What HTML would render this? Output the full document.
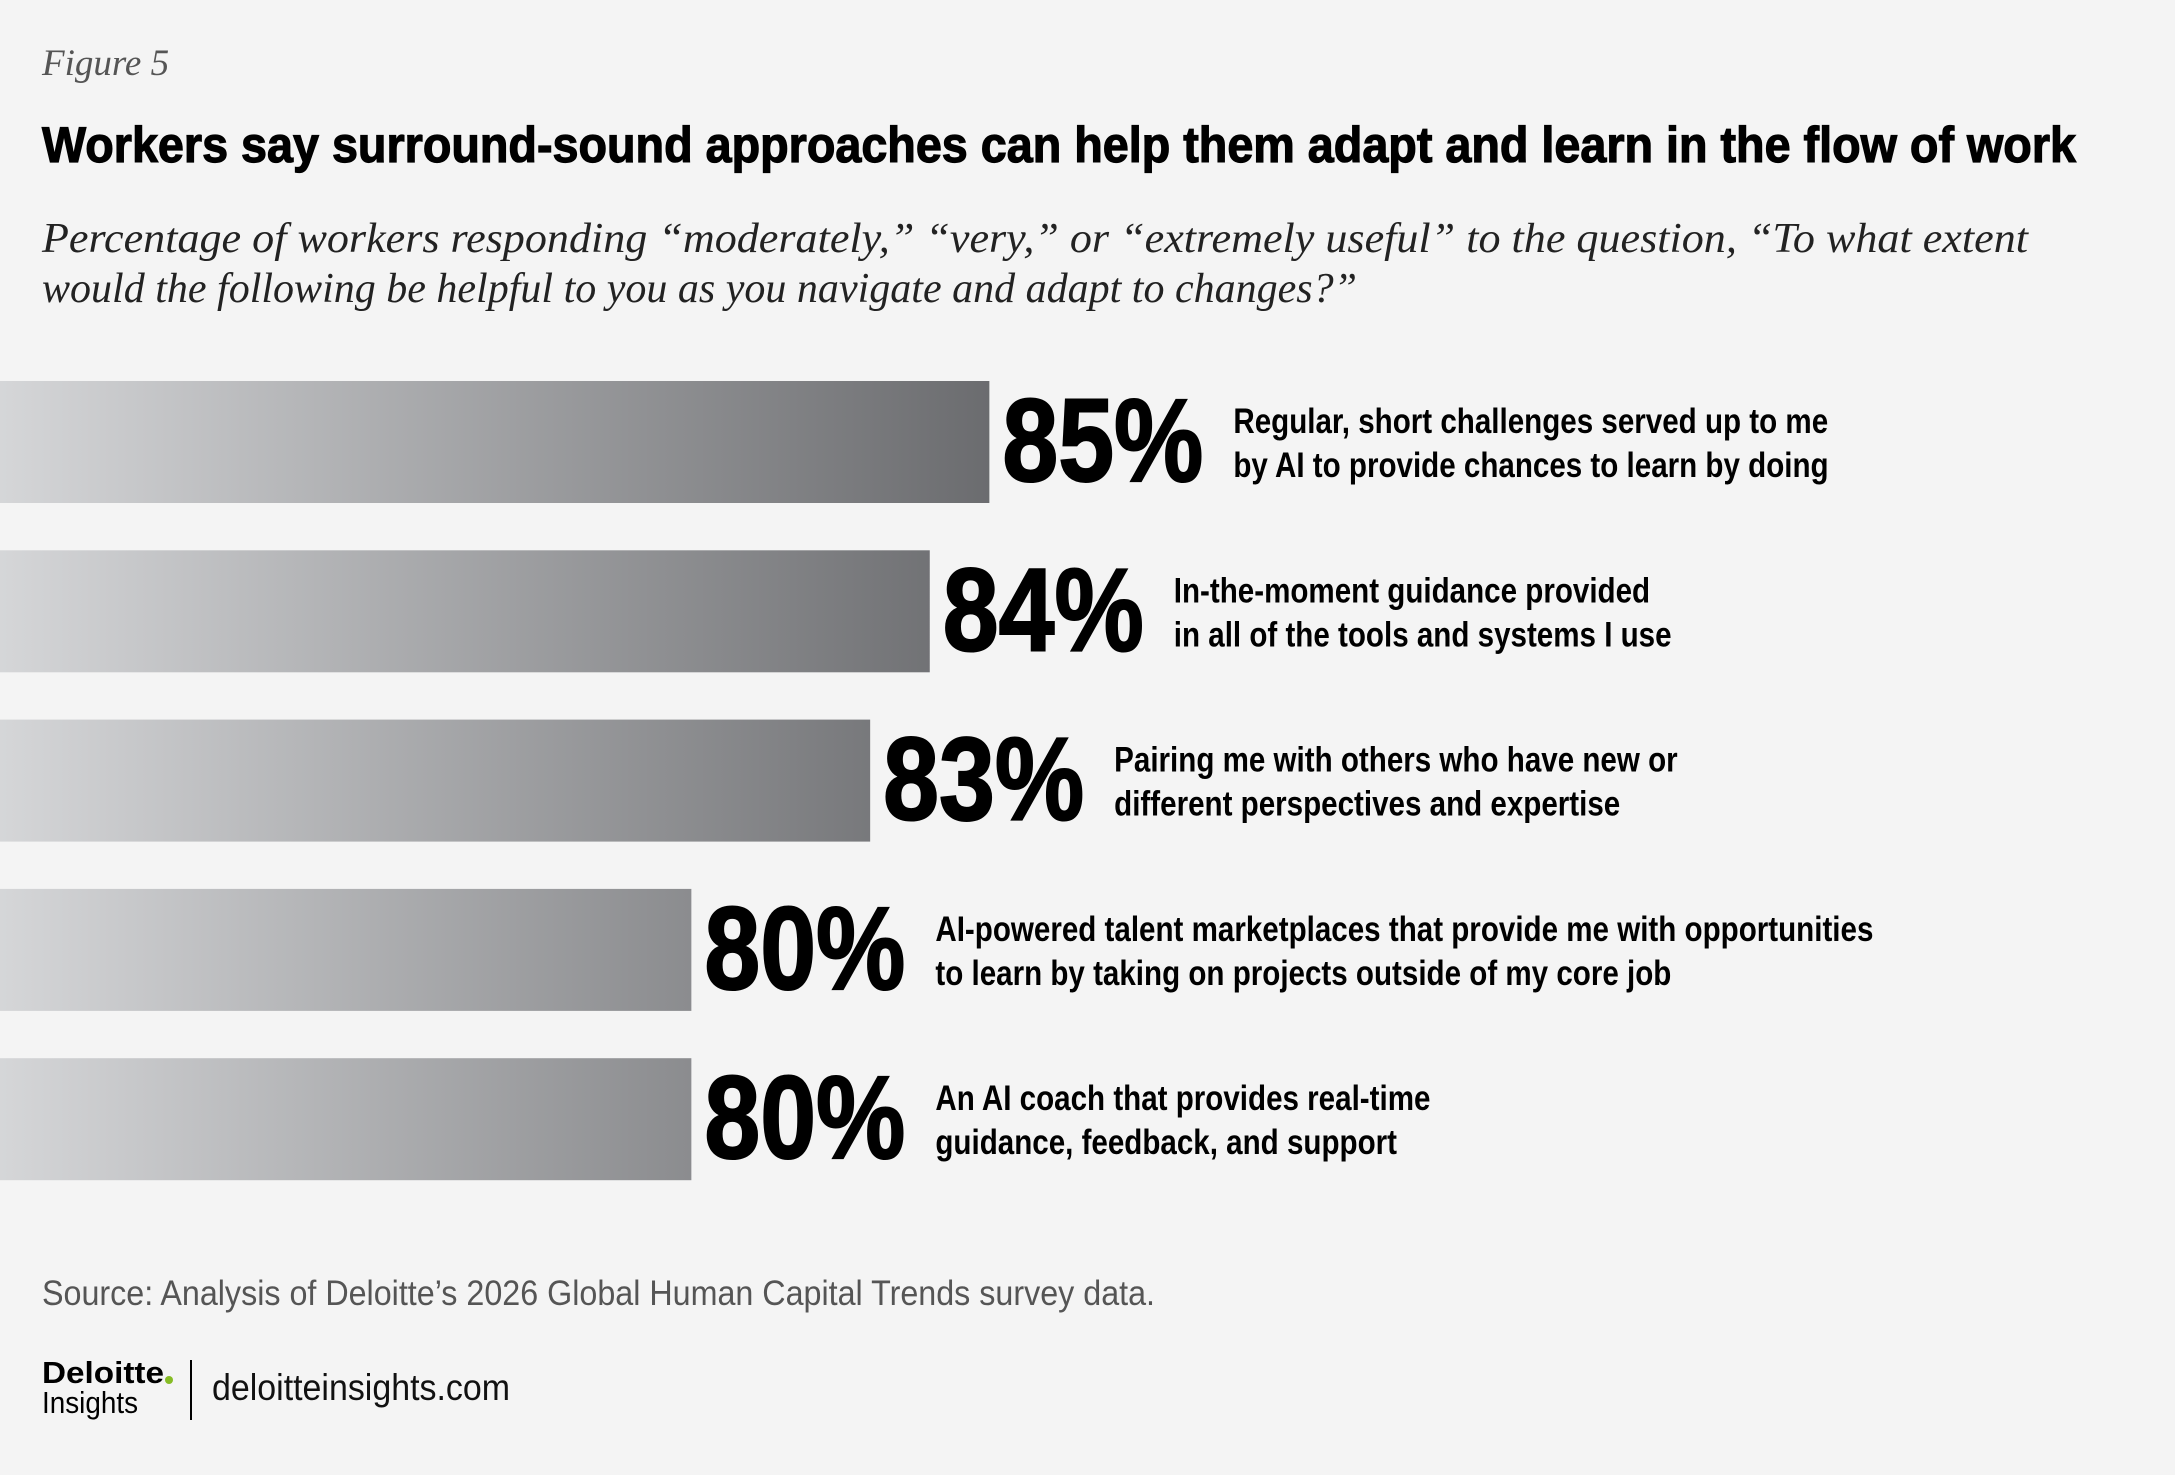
<!DOCTYPE html>
<html><head><meta charset="utf-8"><style>
html,body{margin:0;padding:0;background:#f4f4f4;}
svg{display:block;}
</style></head><body>
<svg id="chart" width="2175" height="1475" viewBox="0 0 2175 1475" xmlns="http://www.w3.org/2000/svg">
<defs>
<linearGradient id="barGrad" gradientUnits="userSpaceOnUse" x1="0" y1="0" x2="989" y2="0">
<stop offset="0" stop-color="#d5d6d8"/><stop offset="1" stop-color="#6b6c6f"/>
</linearGradient>
</defs>
<rect width="2175" height="1475" fill="#f4f4f4"/>
<text x="42" y="75" font-family="Liberation Serif, serif" font-style="italic" font-size="37" fill="#555">Figure 5</text>
<text x="42" y="162" font-family="Liberation Sans, sans-serif" font-weight="bold" font-size="50" fill="#000" stroke="#000" stroke-width="1.2" textLength="2034" lengthAdjust="spacingAndGlyphs">Workers say surround-sound approaches can help them adapt and learn in the flow of work</text>
<text x="42" y="252" font-family="Liberation Serif, serif" font-style="italic" font-size="42" fill="#222" textLength="1986" lengthAdjust="spacingAndGlyphs">Percentage of workers responding “moderately,” “very,” or “extremely useful” to the question, “To what extent</text>
<text x="42" y="302" font-family="Liberation Serif, serif" font-style="italic" font-size="42" fill="#222" textLength="1315" lengthAdjust="spacingAndGlyphs">would the following be helpful to you as you navigate and adapt to changes?”</text>
<g id="bars"></g>
<text x="42" y="1305" font-family="Liberation Sans, sans-serif" font-size="35" fill="#555" textLength="1113" lengthAdjust="spacingAndGlyphs">Source: Analysis of Deloitte’s 2026 Global Human Capital Trends survey data.</text>
<g>
<text x="42" y="1383" font-family="Liberation Sans, sans-serif" font-weight="bold" font-size="31" fill="#000" textLength="122" lengthAdjust="spacingAndGlyphs">Deloitte</text>
<circle cx="169" cy="1380" r="4" fill="#86bc25"/>
<text x="42" y="1413" font-family="Liberation Sans, sans-serif" font-size="31" fill="#000" textLength="96" lengthAdjust="spacingAndGlyphs">Insights</text>
</g>
<rect x="190" y="1360" width="2" height="60" fill="#000"/>
<text x="212" y="1400" font-family="Liberation Sans, sans-serif" font-size="37" fill="#111" textLength="298" lengthAdjust="spacingAndGlyphs">deloitteinsights.com</text>
</svg>
<script>
const categories = [
  ["Regular, short challenges served up to me","by AI to provide chances to learn by doing"],
  ["In-the-moment guidance provided","in all of the tools and systems I use"],
  ["Pairing me with others who have new or","different perspectives and expertise"],
  ["AI-powered talent marketplaces that provide me with opportunities","to learn by taking on projects outside of my core job"],
  ["An AI coach that provides real-time","guidance, feedback, and support"]
];
const values = [85, 84, 83, 80, 80];
const valueLabels = ["85%", "84%", "83%", "80%", "80%"];

const NS = "http://www.w3.org/2000/svg";
const xScale = v => (v - 68.4) * 59.6;
const barTop = 381, barStep = 169.3, barH = 122;
const yScale = i => barTop + i * barStep;
const g = document.getElementById('bars');
values.forEach((v, i) => {
  const y = yScale(i), w = xScale(v);
  const r = document.createElementNS(NS, 'rect');
  
  
  r.setAttribute('x', 0); r.setAttribute('y', y);
  r.setAttribute('width', w); r.setAttribute('height', barH);
  r.setAttribute('fill', 'url(#barGrad)');
  g.appendChild(r);
  const t = document.createElementNS(NS, 'text');
  
  
  t.setAttribute('x', w + 13); t.setAttribute('y', y + 100);
  t.setAttribute('font-family', 'Liberation Sans, sans-serif');
  t.setAttribute('font-weight', 'bold');
  t.setAttribute('font-size', '118');
  t.setAttribute('fill', '#000');
  t.setAttribute('stroke', '#000');
  t.setAttribute('stroke-width', '2');
  t.setAttribute('textLength', '201');
  t.setAttribute('lengthAdjust', 'spacingAndGlyphs');
  t.textContent = valueLabels[i];
  g.appendChild(t);
  categories[i].forEach((line, j) => {
    const l = document.createElementNS(NS, 'text');
    
    
    l.setAttribute('font-family', 'Liberation Sans, sans-serif');
    l.setAttribute('font-weight', 'bold');
    l.setAttribute('font-size', '35');
    l.setAttribute('fill', '#000');
    l.setAttribute('transform', 'translate(' + (w + 244) + ',' + (y + 52 + j * 44) + ') scale(0.845,1)');
    l.textContent = line;
    g.appendChild(l);
  });
});
</script>
</body></html>
